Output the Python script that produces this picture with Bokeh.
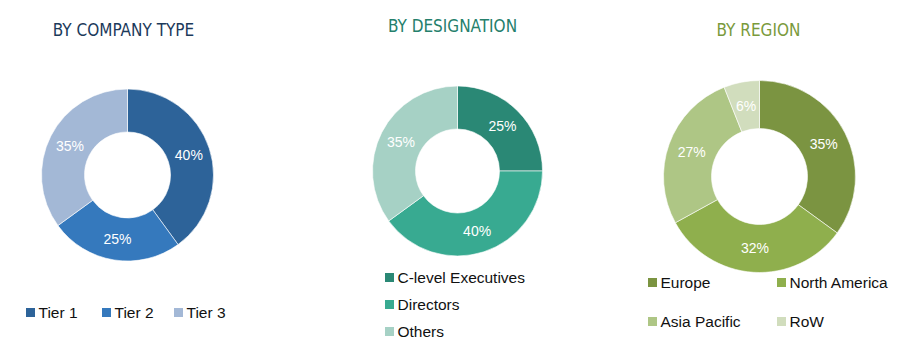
import numpy as np
from bokeh.plotting import figure
from bokeh.models import Range1d, ColumnDataSource
from bokeh.core.properties import value
from bokeh.embed import file_html
from bokeh.resources import INLINE

# ---- data ----
company_types = ["Tier 1", "Tier 2", "Tier 3"]
company_shares = [40, 25, 35]
company_colors = ["#2D6399", "#3579BD", "#A3B8D6"]

designations = ["C-level Executives", "Directors", "Others"]
designation_shares = [25, 40, 35]
designation_colors = ["#2A8875", "#38AA91", "#A6D1C5"]

regions = ["Europe", "North America", "Asia Pacific", "RoW"]
region_shares = [35, 32, 27, 6]
region_colors = ["#7B9441", "#8FAF4D", "#AEC685", "#D1DDBD"]

titles = ["BY COMPANY TYPE", "BY DESIGNATION", "BY REGION"]
title_colors = ["#1C3A5B", "#25806C", "#7A9A3C"]

H = 350
LABEL_FONT = value("Liberation Sans")
TITLE_FONT = value("DejaVu Sans Condensed, Liberation Sans, sans-serif")

p = figure(width=900, height=350, x_range=Range1d(0, 900), y_range=Range1d(0, H),
           x_axis_type=None, y_axis_type=None, toolbar_location=None,
           output_backend="svg", min_border=0, outline_line_color=None,
           background_fill_color="white", border_fill_color="white")
p.xgrid.visible = False
p.ygrid.visible = False


def donut(cx, cy, r_out, r_in, shares, colors):
    shares = np.array(shares, dtype=float)
    frac = shares / shares.sum()
    cum = np.concatenate([[0.0], np.cumsum(frac)])
    start = np.pi / 2 - 2 * np.pi * cum[:-1]
    end = np.pi / 2 - 2 * np.pi * cum[1:]
    src = ColumnDataSource(dict(start=start, end=end, color=colors))
    p.annular_wedge(x=cx, y=H - cy, inner_radius=r_in, outer_radius=r_out,
                    start_angle="start", end_angle="end", direction="clock",
                    fill_color="color", line_color="white", line_width=0.6,
                    source=src)
    mid = np.pi / 2 - 2 * np.pi * (cum[:-1] + cum[1:]) / 2
    rl = (r_in + r_out) / 2
    lx = cx + rl * np.cos(mid)
    ly = (H - cy) + rl * np.sin(mid)
    p.text(x=lx, y=ly, text=[f"{s:g}%" for s in shares],
           text_color="white", text_font=LABEL_FONT, text_font_size="14px",
           text_align="center", text_baseline="middle")


def legend(xs, ys, names, colors):
    yy = [H - y for y in ys]
    p.scatter(x=xs, y=yy, marker="square", size=9, fill_color=colors,
              line_color=None)
    p.text(x=[x + 8 for x in xs], y=yy, text=names, text_color="#111111",
           text_font=LABEL_FONT, text_font_size="15.5px",
           text_align="left", text_baseline="middle")


donut(127, 174.5, 86, 43, company_shares, company_colors)
donut(457, 170.5, 85, 42, designation_shares, designation_colors)
donut(759, 176, 96, 48, region_shares, region_colors)

legend([30, 106, 178], [312, 312, 312], company_types, company_colors)
legend([389, 389, 389], [277, 304, 331], designations, designation_colors)
legend([652, 781, 652, 781], [282, 282, 321, 321], regions, region_colors)

p.text(x=[123, 452, 758], y=[H - 29.5, H - 25, H - 29], text=titles,
       text_color=title_colors, text_font=TITLE_FONT, text_font_size="17px",
       text_align="center", text_baseline="middle")

open("out.html", "w").write(file_html(p, INLINE))
